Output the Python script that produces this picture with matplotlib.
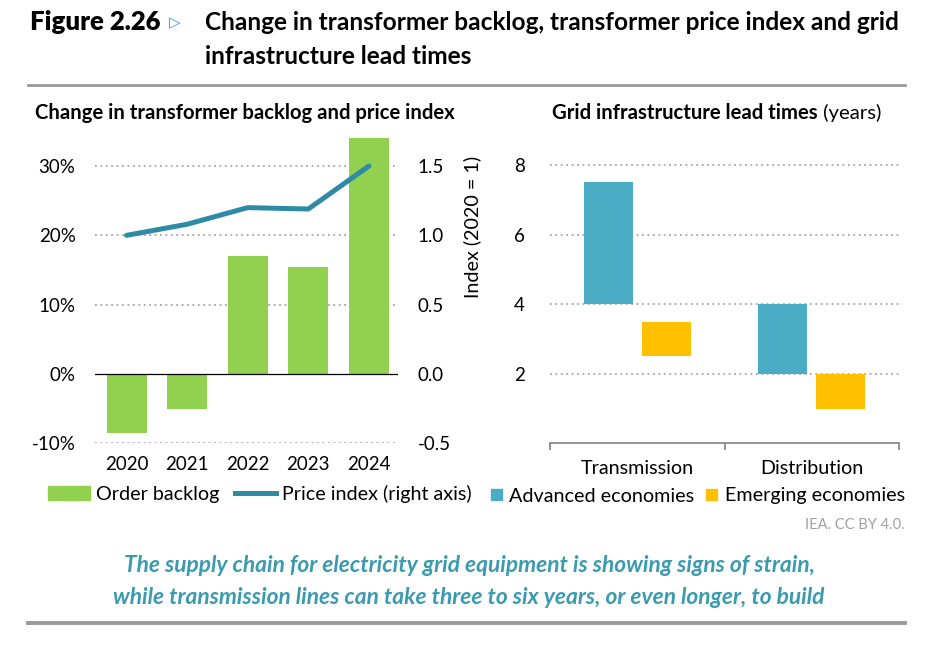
import matplotlib.pyplot as plt
from matplotlib.patches import Patch
from matplotlib.lines import Line2D

# data
years = ['2020', '2021', '2022', '2023', '2024']
order_backlog = [-8.5, -5.0, 17.0, 15.4, 34.0]      # % change
price_index = [1.0, 1.08, 1.2, 1.19, 1.5]            # 2020 = 1
backlog_ticks = [-10, 0, 10, 20, 30]
backlog_labels = ['-10%', '0%', '10%', '20%', '30%']
index_ticks = [-0.5, 0.0, 0.5, 1.0, 1.5]
index_labels = ['-0.5', '0.0', '0.5', '1.0', '1.5']

segments = ['Transmission', 'Distribution']
advanced_low = [4.0, 2.0]
advanced_high = [7.5, 4.0]
emerging_low = [2.5, 1.0]
emerging_high = [3.5, 2.0]
lead_ticks = [2, 4, 6, 8]

GREEN = '#92D050'
TEAL = '#2F8AA5'
BLUE = '#4BACC6'
YELLOW = '#FFC000'
GRID = '#A6A6A6'
FONT = 'Lato'
TICK = 13.5
TXT = 14.2

W, H = 932, 650
plt.rcParams['font.family'] = [FONT, 'DejaVu Sans']


def fx(x):
    return x / W


def fy(y):
    return 1 - y / H


fig = plt.figure(figsize=(W / 100, H / 100), dpi=100)

# ---- left panel: backlog and price index
ax = fig.add_axes([fx(95), fy(443.3), fx(303), 305 / H])
x = list(range(len(years)))
ax.bar(x, order_backlog, width=0.66, color=GREEN, zorder=2)
ax.axhline(0, color='black', lw=0.9, zorder=3)
for t in backlog_ticks:
    if t != 0:
        ax.axhline(t, color=GRID, lw=1.3, ls=(0, (1, 2)), zorder=1)
ax.set_xlim(-0.52, 4.48)
ax.set_ylim(-10, 34)
ax.set_yticks(backlog_ticks)
ax.set_yticklabels(backlog_labels)
ax.set_xticks(x)
ax.set_xticklabels(years)
ax.tick_params(axis='y', length=0, pad=14, labelsize=TICK)
ax.tick_params(axis='x', length=0, pad=9, labelsize=TICK)
for s in ax.spines.values():
    s.set_visible(False)

ax2 = ax.twinx()
ax2.plot(x, price_index, color=TEAL, lw=3.6, solid_capstyle='round', zorder=4)
ax2.set_ylim(-0.5, 1.7)
ax2.set_yticks(index_ticks)
ax2.set_yticklabels(index_labels)
ax2.tick_params(axis='y', length=0, pad=14, labelsize=TICK)
for s in ax2.spines.values():
    s.set_visible(False)
fig.text(fx(472), fy(156), 'Index (2020 = 1)', rotation=90, ha='center', va='top',
         fontsize=TXT)

fig.legend(handles=[Patch(color=GREEN, label='Order backlog'),
                    Line2D([], [], color=TEAL, lw=3.6, label='Price index (right axis)')],
           loc='center', bbox_to_anchor=(fx(260), fy(494)), ncol=2, frameon=False,
           fontsize=TXT, handlelength=2.1, handleheight=0.75, handletextpad=0.3,
           columnspacing=0.8, borderaxespad=0, borderpad=0)

# ---- right panel: lead times
ax3 = fig.add_axes([fx(550), fy(443.3), fx(349), 305 / H])
cx = [0.5, 1.5]
bw = 0.28
ax3.bar([c - 0.166 for c in cx], [h - l for h, l in zip(advanced_high, advanced_low)],
        bottom=advanced_low, width=bw, color=BLUE, zorder=2)
ax3.bar([c + 0.166 for c in cx], [h - l for h, l in zip(emerging_high, emerging_low)],
        bottom=emerging_low, width=bw, color=YELLOW, zorder=2)
for t in lead_ticks:
    ax3.axhline(t, color=GRID, lw=1.3, ls=(0, (1, 2)), zorder=1)
ax3.set_xlim(0, 2)
ax3.set_ylim(0, 8.77)
ax3.set_yticks(lead_ticks)
ax3.tick_params(axis='y', length=0, pad=18, labelsize=TICK)
ax3.set_xticks([0, 1, 2])
ax3.set_xticklabels([])
ax3.set_xticks(cx, minor=True)
ax3.set_xticklabels(segments, minor=True)
ax3.tick_params(axis='x', which='major', length=5, width=1.2, color='#808080')
ax3.tick_params(axis='x', which='minor', length=0, pad=12, labelsize=TXT)
for k, s in ax3.spines.items():
    s.set_visible(k == 'bottom')
ax3.spines['bottom'].set_color('#808080')
ax3.spines['bottom'].set_linewidth(1.2)

fig.legend(handles=[Patch(color=BLUE, label='Advanced economies'),
                    Patch(color=YELLOW, label='Emerging economies')],
           loc='center', bbox_to_anchor=(fx(698), fy(496)), ncol=2, frameon=False,
           fontsize=TXT, handlelength=0.55, handleheight=0.55, handletextpad=0.4,
           columnspacing=0.6, borderaxespad=0, borderpad=0)

# ---- headings
fig.text(fx(30), fy(22), 'Figure 2.26', fontsize=18.5, fontweight='heavy', va='center')
fig.text(fx(169), fy(23), '\u25B7', fontsize=11, color='#3A9BB5', va='center',
         family='DejaVu Sans')
fig.text(fx(205), fy(22), 'Change in transformer backlog, transformer price index and grid',
         fontsize=17.6, fontweight='bold', va='center')
fig.text(fx(205), fy(57), 'infrastructure lead times', fontsize=17.6, fontweight='bold',
         va='center')
fig.add_artist(Line2D([fx(28), fx(905)], [fy(85), fy(85)], color='#999999', lw=2))

fig.text(fx(35), fy(113), 'Change in transformer backlog and price index', fontsize=14.6,
         fontweight='bold', va='center')
t1 = fig.text(fx(552), fy(113), 'Grid infrastructure lead times', fontsize=14.6,
              fontweight='bold', va='center')
fig.canvas.draw()
bb = t1.get_window_extent().transformed(fig.transFigure.inverted())
fig.text(bb.x1, fy(113), ' (years)', fontsize=14.6, va='center')

fig.text(fx(905), fy(525), 'IEA. CC BY 4.0.', fontsize=10.5, color='#A0A0A0', ha='right',
         va='center')
fig.text(fx(469), fy(566), 'The supply chain for electricity grid equipment is showing signs of strain,',
         fontsize=16.4, fontweight='bold', style='italic', color='#3A9BB0', ha='center',
         va='center')
fig.text(fx(469), fy(597), 'while transmission lines can take three to six years, or even longer, to build',
         fontsize=16.4, fontweight='bold', style='italic', color='#3A9BB0', ha='center',
         va='center')
fig.add_artist(Line2D([fx(28), fx(905)], [fy(623), fy(623)], color='#999999', lw=2.8))

fig.savefig('out.png', dpi=100)
